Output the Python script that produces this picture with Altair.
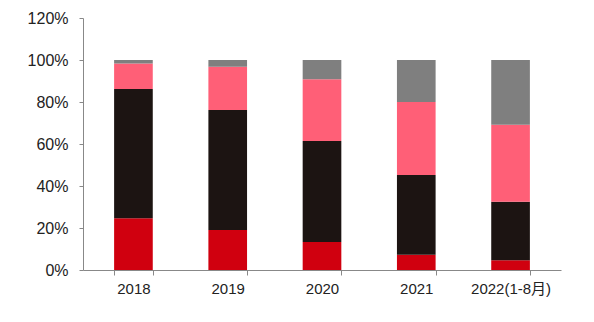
import altair as alt
import pandas as pd

years = ["2018", "2019", "2020", "2021", "2022(1-8月)"]
series = ["A", "B", "C", "D"]
colors = ["#D0000F", "#1C1412", "#FF5F77", "#7F7F7F"]
vals_a = [24.6, 19.0, 13.3, 7.3, 4.6]
vals_b = [61.6, 57.2, 48.1, 37.9, 27.9]
vals_c = [12.1, 20.6, 29.4, 34.8, 36.7]
vals_d = [1.7, 3.2, 9.2, 20.0, 30.8]

rows = []
for si, (s, vals) in enumerate(zip(series, [vals_a, vals_b, vals_c, vals_d])):
    for y, v in zip(years, vals):
        rows.append({"year": y, "series": s, "value": v, "ord": si})
df = pd.DataFrame(rows)

font = "Liberation Sans, Noto Sans CJK SC, sans-serif"

chart = alt.Chart(df).mark_bar().encode(
    x=alt.X("year:N", sort=years,
            scale=alt.Scale(paddingInner=0.59, paddingOuter=0.33),
            axis=alt.Axis(title=None, labelAngle=0, ticks=True, tickBand="extent",
                          domainColor="#888888", tickColor="#888888",
                          tickSize=5, labelPadding=6, labelFontSize=15,
                          labelColor="#222222", labelFont=font)),
    y=alt.Y("value:Q", stack="zero",
            scale=alt.Scale(domain=[0, 120], nice=False),
            axis=alt.Axis(title=None, values=[0, 20, 40, 60, 80, 100, 120],
                          labelExpr="datum.value + '%'", grid=False, ticks=True,
                          domainColor="#888888", tickColor="#888888",
                          tickSize=4, labelPadding=11, labelFontSize=16,
                          labelColor="#222222", labelFont=font)),
    color=alt.Color("series:N", scale=alt.Scale(domain=series, range=colors), legend=None),
    order=alt.Order("ord:Q", sort="ascending"),
).properties(
    width=478, height=252,
    autosize=alt.AutoSizeParams(type="none"),
    padding={"left": 83, "top": 18, "right": 33, "bottom": 52},
    background="#FFFFFF",
).configure_view(stroke=None)

chart.save("out.html", embed_options={"renderer": "svg", "actions": False})
